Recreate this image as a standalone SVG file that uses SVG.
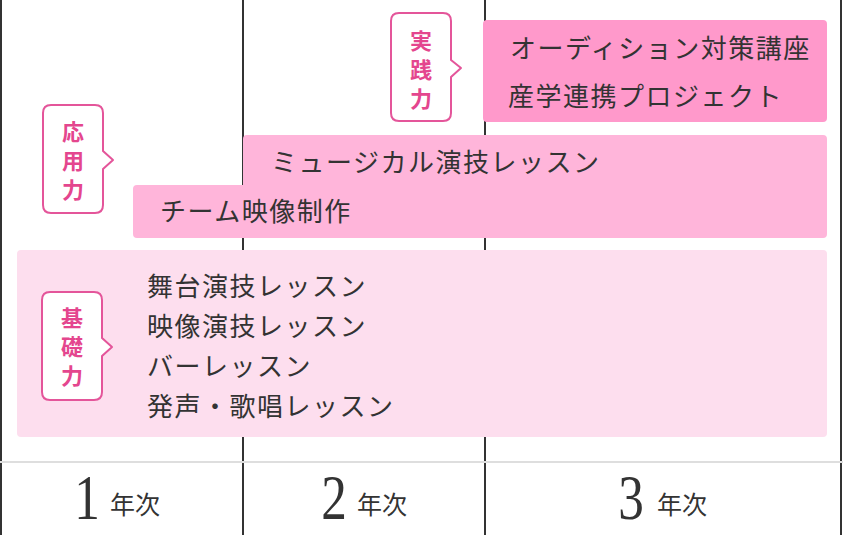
<svg xmlns="http://www.w3.org/2000/svg" width="843" height="535" viewBox="0 0 843 535">
<style>
.vline{stroke:#333;stroke-width:2}
.item{font-family:"Noto Sans CJK JP","Noto Sans",sans-serif;font-size:26px;fill:#333;letter-spacing:1.5px}
.lbl{font-family:"Noto Sans CJK JP","Noto Sans",sans-serif;font-size:22px;font-weight:bold;fill:#e4468e;writing-mode:vertical-rl;letter-spacing:7px}
.bubble{fill:#fff;stroke:#e4559a;stroke-width:2;stroke-linejoin:round}
.num{font-family:"Liberation Serif","DejaVu Serif",serif;font-size:64px;fill:#333;text-anchor:middle}
.yr{font-family:"Noto Sans CJK JP","Noto Sans",sans-serif;font-size:25px;fill:#333}
</style>
<rect width="843" height="535" fill="#fff"/>
<g id="grid">
<line class="vline" x1="1" y1="0" x2="1" y2="535"/>
<line class="vline" x1="243" y1="0" x2="243" y2="535"/>
<line class="vline" x1="485" y1="0" x2="485" y2="535"/>
<line class="vline" x1="841" y1="0" x2="841" y2="535"/>
<line x1="0" y1="462" x2="843" y2="462" stroke="#dedede" stroke-width="2"/>
</g>
<g id="practice">
<rect x="483" y="20" width="344" height="102" rx="4" fill="#ff99cb"/>
<text class="item" x="510" y="58">オーディション対策講座</text>
<text class="item" x="508" y="106">産学連携プロジェクト</text>
</g>
<g id="applied">
<path d="M247,135 H823 Q827,135 827,139 V234 Q827,238 823,238 H137 Q133,238 133,234 V189 Q133,185 137,185 H243 V139 Q243,135 247,135 Z" fill="#ffb5da"/>
<text class="item" x="271" y="172">ミュージカル演技レッスン</text>
<text class="item" x="160" y="221">チーム映像制作</text>
</g>
<g id="basic">
<rect x="17" y="250" width="810" height="187" rx="4" fill="#fddeee"/>
<text class="item" x="147" y="296">舞台演技レッスン</text>
<text class="item" x="147" y="336">映像演技レッスン</text>
<text class="item" x="147" y="376">バーレッスン</text>
<text class="item" x="147" y="416">発声・歌唱レッスン</text>
</g>
<g id="label-practice">
<path class="bubble" d="M399,13 H443 Q451,13 451,21 V60 L461,68 L451,77 V113 Q451,121 443,121 H399 Q391,121 391,113 V21 Q391,13 399,13 Z"/>
<text class="lbl" x="421" y="30">実践力</text>
</g>
<g id="label-applied">
<path class="bubble" d="M51,105 H95 Q103,105 103,113 V151 L113,160 L103,169 V205 Q103,213 95,213 H51 Q43,213 43,205 V113 Q43,105 51,105 Z"/>
<text class="lbl" x="73" y="121">応用力</text>
</g>
<g id="label-basic">
<path class="bubble" d="M50,292 H94 Q102,292 102,300 V338 L112,347 L102,356 V392 Q102,400 94,400 H50 Q42,400 42,392 V300 Q42,292 50,292 Z"/>
<text class="lbl" x="72" y="307">基礎力</text>
</g>
<g id="year1">
<text class="num" transform="translate(87,519) scale(0.8,1)" x="0" y="0">1</text>
<text class="yr" x="110" y="514">年次</text>
</g>
<g id="year2">
<text class="num" transform="translate(334,519) scale(0.8,1)" x="0" y="0">2</text>
<text class="yr" x="357" y="514">年次</text>
</g>
<g id="year3">
<text class="num" transform="translate(631,519) scale(0.8,1)" x="0" y="0">3</text>
<text class="yr" x="657" y="514">年次</text>
</g>
</svg>
